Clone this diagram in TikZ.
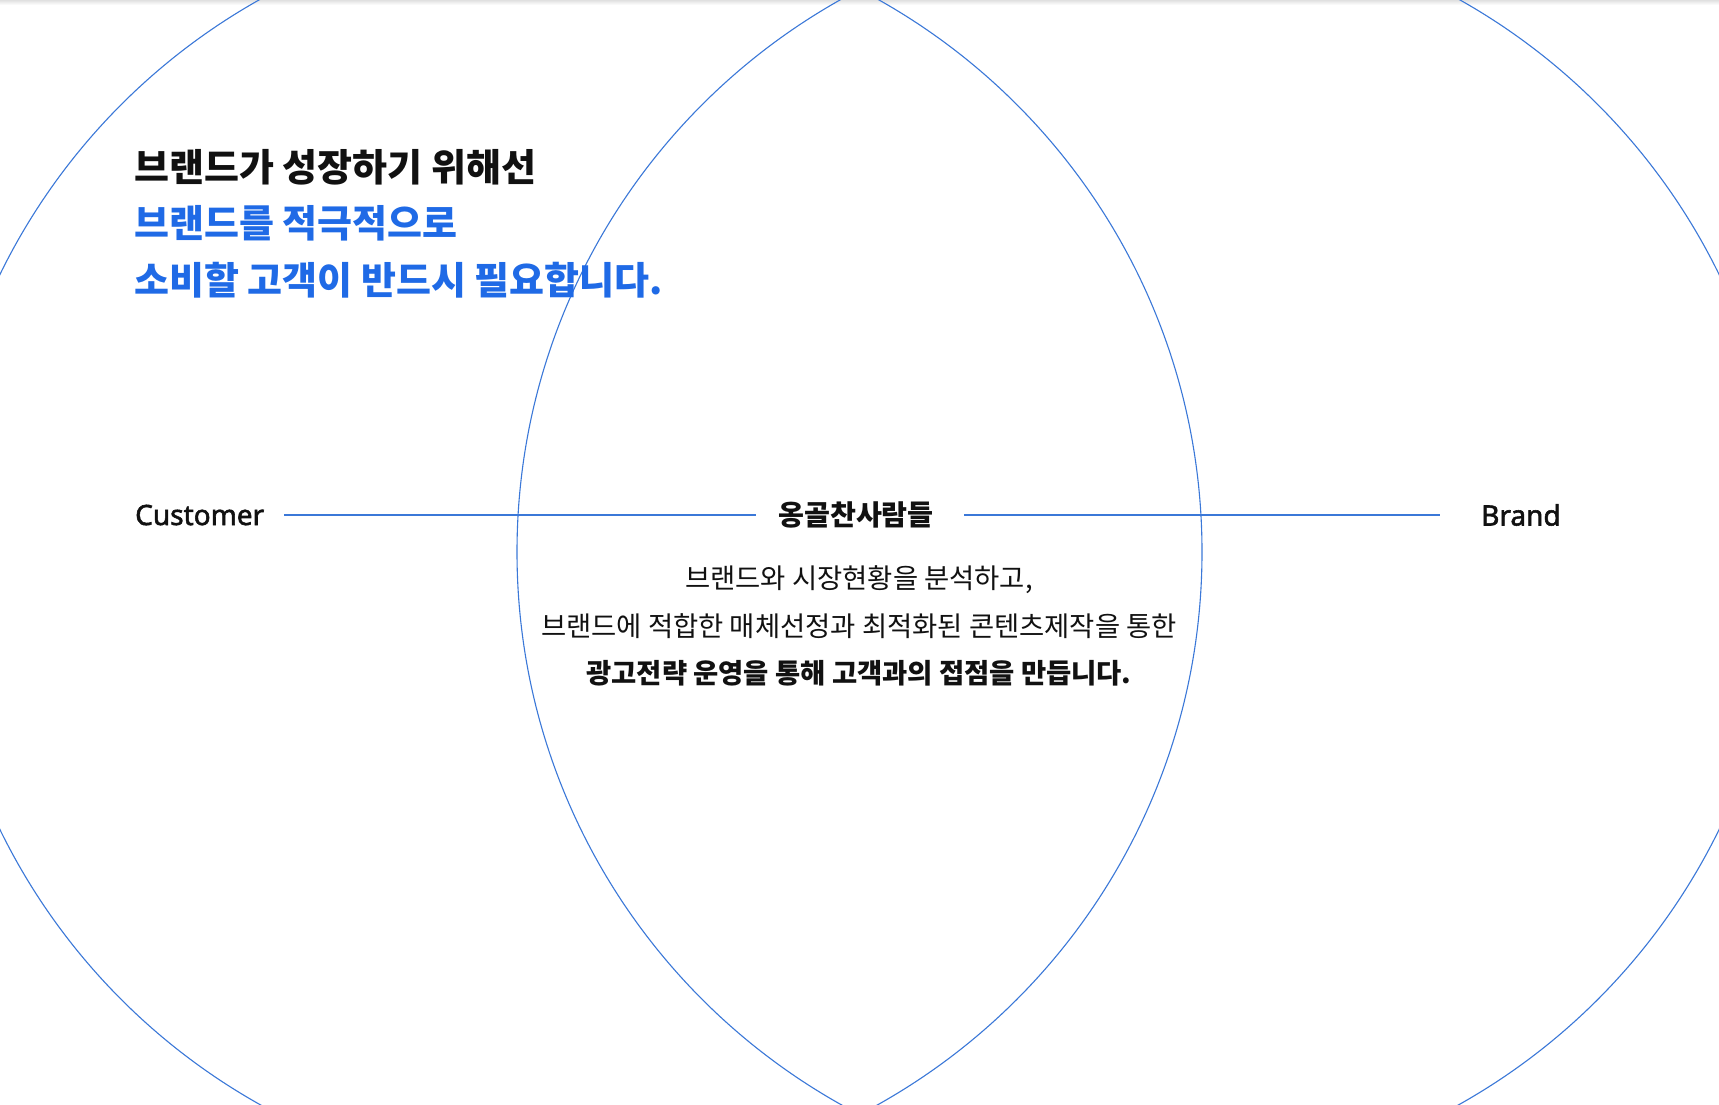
\documentclass[tikz,border=0pt]{standalone}
\usepackage{fontspec}
\setmainfont{Noto Sans CJK KR}
\newfontfamily\latinfont{Noto Sans}[FakeBold=2]
\definecolor{lineblue}{HTML}{3B78D8}
\definecolor{textblue}{HTML}{1F6AE6}
\definecolor{ink}{HTML}{111111}
\tikzset{
  circ/.style={draw=lineblue, line width=1.1pt},
  conn/.style={draw=lineblue, line width=1.6pt},
  heading/.style={font=\fontsize{38}{44}\selectfont\bfseries, inner sep=0pt, anchor=base west},
  lab/.style={font=\latinfont\fontsize{28}{32}\selectfont, text=ink, inner sep=0pt},
  ttl/.style={font=\fontsize{28.2}{32}\selectfont\bfseries, text=ink, inner sep=0pt},
  body/.style={font=\fontsize{27.4}{32}\selectfont, text=ink, inner sep=0pt, anchor=base}
}
\begin{document}
\begin{tikzpicture}[x=1pt,y=-1pt]
\useasboundingbox (0,0) rectangle (1719,1104);
\fill[white] (0,0) rectangle (1719,1104);
\shade[top color=black!12, bottom color=white] (0,0) rectangle (1719,5);
\begin{scope}
  \clip (0,0) rectangle (1719,1104);
  \draw[circ] (569,552) circle[radius=633pt];
  \draw[circ] (1150,552) circle[radius=633pt];
\end{scope}
% heading
\node[heading, text=ink] (h1) at (134,181) {브랜드가 성장하기 위해선};
\node[heading, text=textblue] (h2) at (134,237) {브랜드를 적극적으로};
\node[heading, text=textblue] (h3) at (134,294) {소비할 고객이 반드시 필요합니다.};
% labels and line
\node[lab, anchor=west] (cust) at (135,515) {Customer};
\node[ttl, anchor=center] (title) at (856,515) {옹골찬사람들};
\node[lab, anchor=west] (brand) at (1481,515) {Brand};
\draw[conn] ([xshift=20pt]cust.east) -- ([xshift=-22pt]cust.east -| title.west);
\draw[conn] ([xshift=30pt]cust.east -| title.east) -- ([xshift=-41pt]cust.east -| brand.west);
% body
\node[body] (b1) at (859,588) {브랜드와 시장현황을 분석하고,};
\node[body] (b2) at (859,636) {브랜드에 적합한 매체선정과 최적화된 콘텐츠제작을 통한};
\node[body, font=\fontsize{27.4}{32}\selectfont\bfseries] (b3) at (859,683) {광고전략 운영을 통해 고객과의 접점을 만듭니다.};
\end{tikzpicture}
\end{document}
